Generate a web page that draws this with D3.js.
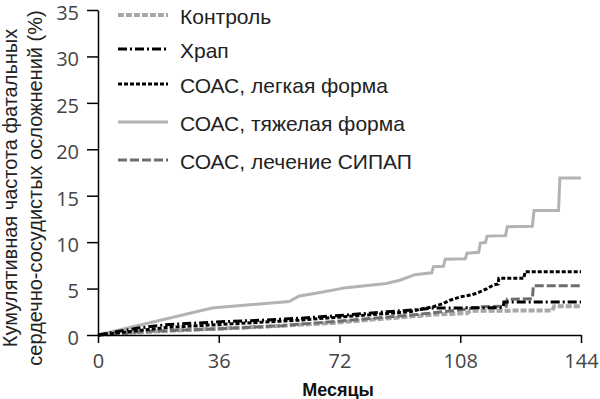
<!DOCTYPE html>
<html><head><meta charset="utf-8">
<script src="https://cdn.jsdelivr.net/npm/d3@7"></script>
<style>body{margin:0;background:#fff}svg{display:block}</style>
</head><body>
<svg id="c" width="600" height="399"></svg>
<script>
const seriesNames = ["Контроль","Храп","СОАС, легкая форма","СОАС, тяжелая форма","СОАС, лечение СИПАП"];
const xTicks = [0,36,72,108,144];
const yTicks = [0,5,10,15,20,25,30,35];
const xLabel = "Месяцы";
const yLabelLines = ["Кумулятивная частота фатальных","сердечно-сосудистых осложнений (%)"];

// [month, cumulative %]
const control = [[0,0],[10,0.25],[30,0.6],[50,0.9],[70,1.3],[90,1.9],[100,2.2],[110,2.35],[111,2.6],[135.5,2.65],[136,3.1],[144,3.1]];
const snoring = [[0,0],[12,0.75],[20,1.1],[35,1.4],[49,1.6],[60,1.8],[74,2.15],[86,2.5],[96,2.75],[100,2.9],[120.8,2.95],[121,3.55],[144,3.55]];
const mild = [[0,0],[20,0.8],[40,1.2],[60,1.6],[80,2.15],[93,2.5],[97,2.85],[100,3.05],[103,3.4],[105,3.75],[108,4.1],[111,4.3],[113,4.5],[116,5.0],[118,5.4],[119.3,5.5],[119.5,6.1],[127,6.1],[127.3,6.8],[144,6.8]];
const severe = [[0,0],[34,2.9],[40,3.1],[57,3.6],[60,4.2],[65,4.5],[74,5.1],[86,5.55],[90,5.9],[94.5,6.5],[97,6.6],[99.5,6.7],[100,7.35],[103,7.4],[103.5,8.15],[109.5,8.2],[110,8.8],[113.5,8.9],[114,9.9],[115.5,9.95],[116,10.65],[121.5,10.7],[122,11.65],[129.5,11.7],[130,13.4],[137.3,13.4],[137.7,16.9],[144,16.9]];
const cpap = [[0,0],[15,0.4],[35,0.65],[55,1.0],[75,1.6],[95,2.2],[108,2.7],[112,2.9],[115,3.05],[121.7,3.1],[122,3.85],[129.5,3.9],[129.8,5.3],[144,5.3]];

const seriesData = [control, snoring, mild, severe, cpap];
const styles = [
  {stroke:"#a8a8a8", width:4, dash:"6,2"},
  {stroke:"#000", width:3, dash:"9,3,2,3"},
  {stroke:"#000", width:3, dash:"4,2"},
  {stroke:"#b3b3b3", width:3, dash:null},
  {stroke:"#6e6e6e", width:3, dash:"9,3"}
];

const svg = d3.select("#c");
const x = d3.scaleLinear().domain([0,144]).range([98,581]);
const y = d3.scaleLinear().domain([0,35]).range([335,10]);

const line = d3.line().x(d=>x(d[0])).y(d=>y(d[1]));
[3,0,4,2,1].forEach(i=>{
  svg.append("path").datum(seriesData[i]).attr("d",line)
    .attr("fill","none").attr("stroke",styles[i].stroke)
    .attr("stroke-width",styles[i].width)
    .attr("stroke-dasharray",styles[i].dash)
    .attr("stroke-linejoin","miter");
});

const tickFont = "'Open Sans', 'Noto Sans', sans-serif";
const yAxis = svg.append("g").attr("transform","translate(98,0)")
  .call(d3.axisLeft(y).tickValues(yTicks).tickSize(11).tickSizeOuter(0).tickPadding(8));
const xAxis = svg.append("g").attr("transform","translate(0,335)")
  .call(d3.axisBottom(x).tickValues(xTicks).tickSize(8).tickSizeOuter(0).tickPadding(11));
[yAxis,xAxis].forEach(g=>{
  g.selectAll("path,line").attr("stroke","#000").attr("stroke-width",1.5);
  g.selectAll("text").attr("font-family",tickFont).attr("font-size",20).attr("fill","#444");
});
yAxis.selectAll("text").attr("y",3);

svg.append("text").attr("x",338).attr("y",396).attr("text-anchor","middle")
  .attr("font-family","'Liberation Sans', Arial, sans-serif").attr("font-weight","bold")
  .attr("font-size",18).attr("fill","#111").text(xLabel);

const yl = svg.append("text").attr("transform","translate(0,188) rotate(-90)")
  .attr("text-anchor","middle").attr("font-family","'Liberation Sans', Arial, sans-serif")
  .attr("font-size",20).attr("fill","#222");
yLabelLines.forEach((t,i)=>{
  yl.append("tspan").attr("x", 0).attr("y", 17 + i*25).text(t);
});

const rows = [17,51,86,124,162];
seriesNames.forEach((n,i)=>{
  const ry = rows[i];
  svg.append("line").attr("x1",118).attr("x2",168).attr("y1",ry-2).attr("y2",ry-2)
    .attr("stroke",styles[i].stroke).attr("stroke-width",styles[i].width)
    .attr("stroke-dasharray",styles[i].dash);
  svg.append("text").attr("x",180).attr("y",ry).attr("dy","0.35em")
    .attr("font-family","'Liberation Sans', Arial, sans-serif").attr("font-size",21)
    .attr("fill","#222").text(n);
});
</script>
</body></html>
